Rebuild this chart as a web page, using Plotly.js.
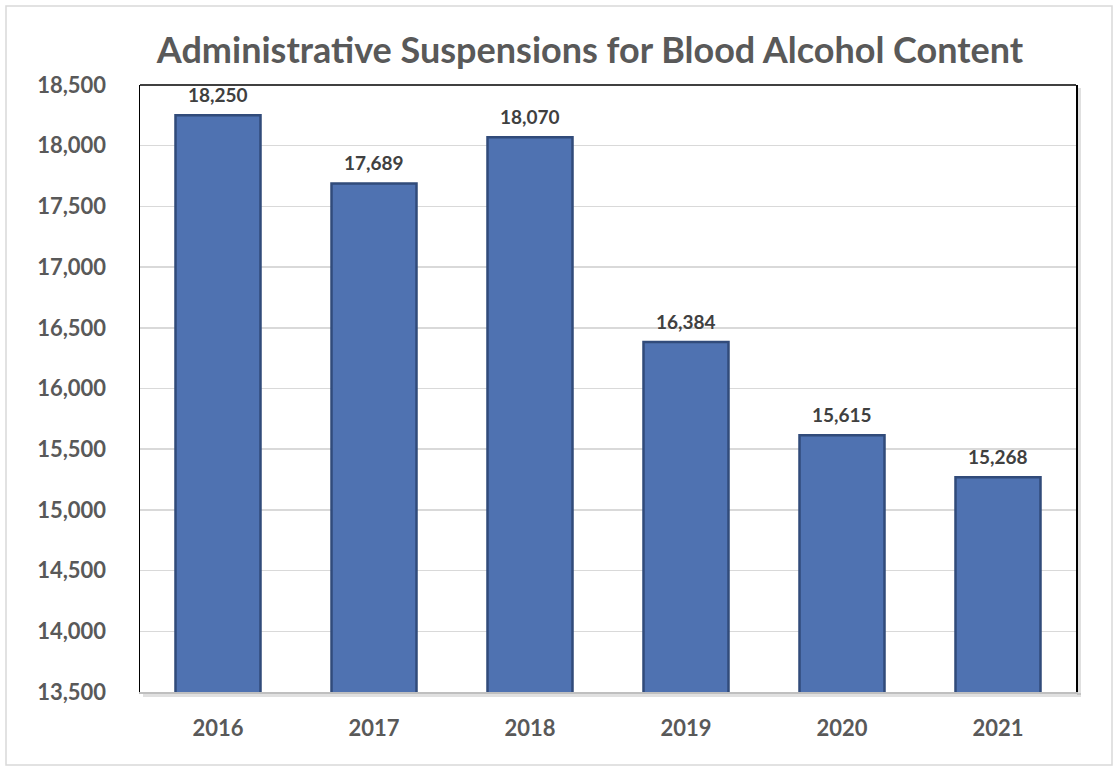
<!DOCTYPE html>
<html>
<head>
<meta charset="utf-8">
<script src="https://cdn.plot.ly/plotly-3.0.1.min.js"></script>
<style>
html,body{margin:0;padding:0;background:#fff;}
#chart{width:1117px;height:768px;}
</style>
</head>
<body>
<div id="chart"></div>
<script>
const years = ['2016', '2017', '2018', '2019', '2020', '2021'];
const suspensions = [18250, 17689, 18070, 16384, 15615, 15268];
const yTickValues = [13500, 14000, 14500, 15000, 15500, 16000, 16500, 17000, 17500, 18000, 18500];

const W = 1117, H = 768;
const margin = {l: 140, r: 41, t: 85, b: 76};
const pw = W - margin.l - margin.r, ph = H - margin.t - margin.b;
const fx = px => (px - margin.l) / pw;
const fy = py => 1 - (py - margin.t) / ph;

const font = 'Lato, "Open Sans", sans-serif';

const trace = {
  type: 'bar',
  x: years,
  y: suspensions,
  marker: {color: '#4f72b1', line: {color: '#314b7a', width: 2.5}},
  cliponaxis: false,
  hoverinfo: 'x+y'
};

// category index positions for the value labels
const labelAnnotations = years.map((yr, i) => ({
  x: i, y: suspensions[i], xref: 'x', yref: 'y',
  text: suspensions[i].toLocaleString('en-US'),
  showarrow: false, yanchor: 'bottom', yshift: 7,
  font: {family: font, size: 19, color: '#404040', weight: 'bold'}
}));

const layout = {
  width: W, height: H,
  margin: margin,
  paper_bgcolor: '#ffffff',
  plot_bgcolor: '#ffffff',
  showlegend: false,
  bargap: 0.455,
  title: {
    text: 'Administrative Suspensions for Blood Alcohol Content',
    font: {family: font, size: 36, color: '#595959', weight: 'bold'},
    xref: 'container', x: 590 / W, xanchor: 'center',
    yref: 'container', y: 1 - 50 / H, yanchor: 'middle'
  },
  xaxis: {
    type: 'category',
    categoryorder: 'array', categoryarray: years,
    range: [-0.5, years.length - 0.5],
    showline: true, linecolor: '#bfbfbf', linewidth: 1.5,
    showgrid: false, ticks: '',
    tickfont: {family: font, size: 22, color: '#595959', weight: 'bold'},
    ticklabelstandoff: 16
  },
  yaxis: {
    range: [13500, 18500],
    tickvals: yTickValues,
    tickformat: ',',
    showline: true, linecolor: '#000000', linewidth: 1.5, mirror: true,
    showgrid: true, gridcolor: '#d9d9d9', gridwidth: 1.5,
    zeroline: false, ticks: '',
    tickfont: {family: font, size: 22, color: '#595959', weight: 'bold'},
    ticklabelstandoff: 28
  },
  annotations: labelAnnotations,
  shapes: [
    {type: 'line', xref: 'paper', yref: 'paper', x0: fx(1079), x1: fx(1079), y0: fy(88), y1: fy(695),
     line: {color: 'rgba(0,0,0,0.12)', width: 4}, layer: 'below'},
    {type: 'line', xref: 'paper', yref: 'paper', x0: fx(143), x1: fx(1081), y0: fy(695), y1: fy(695),
     line: {color: 'rgba(0,0,0,0.12)', width: 4}, layer: 'below'},
    {type: 'line', xref: 'paper', yref: 'paper', x0: 0, x1: 1, y0: 1, y1: 1,
     line: {color: '#000000', width: 1.5}},
    {type: 'rect', xref: 'paper', yref: 'paper', x0: fx(6), x1: fx(1112), y0: fy(6), y1: fy(765),
     line: {color: '#d9d9d9', width: 1.5}, fillcolor: 'rgba(0,0,0,0)', layer: 'below'}
  ]
};

Plotly.newPlot('chart', [trace], layout, {displayModeBar: false, staticPlot: true});
</script>
</body>
</html>
